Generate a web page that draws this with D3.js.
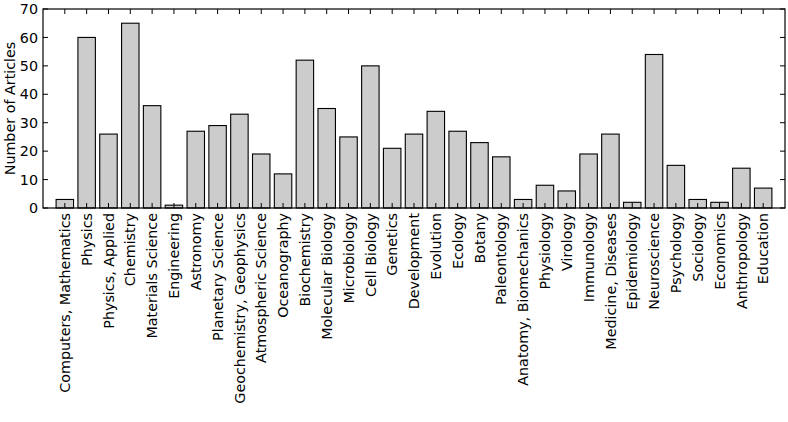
<!DOCTYPE html>
<html>
<head>
<meta charset="utf-8">
<script src="https://cdn.jsdelivr.net/npm/d3@7"></script>
<style>
  html, body { margin: 0; padding: 0; background: #fff; }
  svg { display: block; font-family: "DejaVu Sans", sans-serif; }
</style>
</head>
<body>
<svg id="chart" width="788" height="422"></svg>
<script>
const categories = [
  "Computers, Mathematics", "Physics", "Physics, Applied", "Chemistry", "Materials Science",
  "Engineering", "Astronomy", "Planetary Science", "Geochemistry, Geophysics", "Atmospheric Science",
  "Oceanography", "Biochemistry", "Molecular Biology", "Microbiology", "Cell Biology",
  "Genetics", "Development", "Evolution", "Ecology", "Botany",
  "Paleontology", "Anatomy, Biomechanics", "Physiology", "Virology", "Immunology",
  "Medicine, Diseases", "Epidemiology", "Neuroscience", "Psychology", "Sociology",
  "Economics", "Anthropology", "Education"
];
const articles = [
  3, 60, 26, 65, 36,
  1, 27, 29, 33, 19,
  12, 52, 35, 25, 50,
  21, 26, 34, 27, 23,
  18, 3, 8, 6, 19,
  26, 2, 54, 15, 3,
  2, 14, 7
];
const yTicks = [0, 10, 20, 30, 40, 50, 60, 70];

const W = 788, H = 422;
const m = { top: 9, right: 3, bottom: 214, left: 43 };
const iW = W - m.left - m.right;
const iH = H - m.top - m.bottom;
const fontSize = "14.3px";

const svg = d3.select("#chart");
const g = svg.append("g").attr("transform", `translate(${m.left},${m.top})`);

// bar i sits at x = i, axis runs from -1 to n
const x = d3.scaleLinear().domain([-1, categories.length]).range([0, iW]);
const y = d3.scaleLinear().domain([0, 70]).range([iH, 0]);
const barW = 0.8;

// Bars
g.selectAll(".bar").data(articles).join("rect")
  .attr("class", "bar")
  .attr("x", (d, i) => x(i - barW / 2))
  .attr("width", x(barW) - x(0))
  .attr("y", d => y(d))
  .attr("height", d => y(0) - y(d))
  .attr("fill", "#cccccc")
  .attr("stroke", "#000")
  .attr("stroke-width", 1.1);

const tickLen = 5;
const idx = d3.range(categories.length);

// X ticks (inward, bottom and top)
g.append("g").selectAll("line").data(idx).join("line")
  .attr("x1", i => x(i)).attr("x2", i => x(i))
  .attr("y1", iH).attr("y2", iH - tickLen)
  .attr("stroke", "#000");
g.append("g").selectAll("line").data(idx).join("line")
  .attr("x1", i => x(i)).attr("x2", i => x(i))
  .attr("y1", 0).attr("y2", tickLen)
  .attr("stroke", "#000");

// Y ticks (inward, left and right)
g.append("g").selectAll("line").data(yTicks).join("line")
  .attr("x1", 0).attr("x2", tickLen)
  .attr("y1", d => y(d)).attr("y2", d => y(d))
  .attr("stroke", "#000");
g.append("g").selectAll("line").data(yTicks).join("line")
  .attr("x1", iW).attr("x2", iW - tickLen)
  .attr("y1", d => y(d)).attr("y2", d => y(d))
  .attr("stroke", "#000");

// Frame
g.append("rect")
  .attr("x", 0).attr("y", 0).attr("width", iW).attr("height", iH)
  .attr("fill", "none").attr("stroke", "#000").attr("stroke-width", 1.2);

// Y tick labels
g.append("g").selectAll("text").data(yTicks).join("text")
  .attr("x", -5).attr("y", d => y(d)).attr("dy", "0.36em")
  .attr("text-anchor", "end")
  .style("font-size", fontSize).style("fill", "#000")
  .text(d => d);

// X tick labels, rotated
g.append("g").selectAll("text").data(categories).join("text")
  .attr("transform", (d, i) => `translate(${x(i)},${iH + 5}) rotate(-90)`)
  .attr("text-anchor", "end").attr("dy", "0.36em")
  .style("font-size", fontSize).style("fill", "#000")
  .text(d => d);

// Y axis label
svg.append("text")
  .attr("transform", `translate(15,${m.top + iH / 2}) rotate(-90)`)
  .attr("text-anchor", "middle")
  .style("font-size", fontSize).style("fill", "#000")
  .text("Number of Articles");
</script>
</body>
</html>
